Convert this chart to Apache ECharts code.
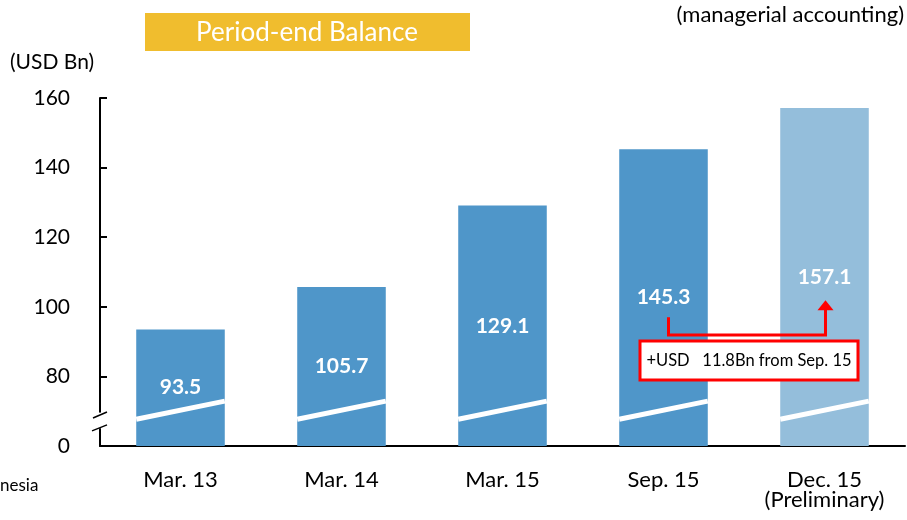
<!DOCTYPE html>
<html>
<head>
<meta charset="utf-8">
<script src="https://cdn.jsdelivr.net/npm/echarts@6/dist/echarts.min.js"></script>
<style>
  html, body { margin: 0; padding: 0; background: #fff; }
  #main { width: 907px; height: 520px; }
</style>
</head>
<body>
<div id="main"></div>
<script>
// data
const categories = ['Mar. 13', 'Mar. 14', 'Mar. 15', 'Sep. 15', 'Dec. 15\n(Preliminary)']
const balances = [93.5, 105.7, 129.1, 145.3, 157.1]
const preliminary = [false, false, false, false, true]
const increase = 11.8

// axis is broken: the bottom tick (60) is shown as "0"
const axisMin = 60
const axisMax = 160
const axisStep = 20

const FONT = 'Lato'
const dark = '#4F96C9'
const light = '#94BEDB'
const red = '#FF0000'

const chart = echarts.init(document.getElementById('main'))

const option = {
  animation: false,
  textStyle: { fontFamily: FONT },
  grid: { left: 100, right: 2, top: 98, bottom: 74, outerBoundsMode: 'none' },
  xAxis: {
    type: 'category',
    data: categories,
    axisLine: { lineStyle: { color: '#000', width: 2 } },
    axisTick: { inside: true, length: 7, lineStyle: { color: '#000', width: 2 } },
    axisLabel: {
      interval: 0,
      hideOverlap: false,
      color: '#000',
      fontSize: 22,
      margin: 24,
      lineHeight: 20,
      fontFamily: FONT,
    },
  },
  yAxis: {
    type: 'value',
    min: axisMin,
    max: axisMax,
    interval: axisStep,
    splitLine: { show: false },
    axisLine: { show: true, lineStyle: { color: '#000', width: 2 } },
    axisTick: { show: true, inside: true, length: 7, lineStyle: { color: '#000', width: 2 } },
    axisLabel: {
      color: '#000',
      fontSize: 21,
      margin: 30,
      fontFamily: FONT,
      formatter: (v) => (v === axisMin ? '0' : String(v)),
    },
  },
  graphic: [
    {
      type: 'rect',
      left: 145,
      top: 13,
      shape: { width: 325, height: 38 },
      style: { fill: '#F0BD2E' },
    },
    {
      type: 'text',
      x: 307,
      y: 33,
      style: {
        text: 'Period-end Balance',
        fill: '#fff',
        fontSize: 26,
        fontFamily: FONT,
        align: 'center',
        verticalAlign: 'middle',
      },
    },
    {
      type: 'text',
      right: 3,
      top: 4,
      style: { text: '(managerial accounting)', fill: '#000', fontSize: 22, fontFamily: FONT },
    },
    {
      type: 'text',
      left: 10,
      top: 52,
      style: { text: '(USD Bn)', fill: '#000', fontSize: 21, fontFamily: FONT },
    },
    {
      type: 'text',
      left: 0,
      top: 477,
      style: { text: 'nesia', fill: '#000', fontSize: 17, fontFamily: FONT },
    },
  ],
  series: [
    {
      type: 'bar',
      barWidth: '55%',
      data: balances.map((v, i) => ({
        value: v,
        itemStyle: { color: preliminary[i] ? light : dark },
      })),
      label: {
        show: true,
        position: 'inside',
        color: '#fff',
        fontWeight: 'bold',
        fontSize: 21,
        fontFamily: FONT,
        formatter: (p) => p.value.toFixed(1),
      },
    },
    {
      // white slash across each bar (break marker)
      type: 'custom',
      z: 5,
      data: categories.map((c, i) => [i, 70]),
      encode: { x: 0, y: 1 },
      renderItem(params, api) {
        const half = api.size([1, 0])[0] * 0.275
        const a = api.coord([api.value(0), 67.7])
        const b = api.coord([api.value(0), 72.9])
        return {
          type: 'line',
          shape: { x1: a[0] - half, y1: a[1], x2: a[0] + half, y2: b[1] },
          style: { stroke: '#fff', lineWidth: 5 },
        }
      },
    },
    {
      // break on the value axis
      type: 'custom',
      z: 5,
      data: [[0, 67]],
      encode: { x: 0, y: 1 },
      renderItem(params, api) {
        const x = params.coordSys.x
        const top = api.coord([0, 69.6])[1]
        const bottom = api.coord([0, 65.1])[1]
        const y1 = api.coord([0, 68.9])[1]
        const y2 = api.coord([0, 65.2])[1]
        return {
          type: 'group',
          children: [
            { type: 'rect', shape: { x: x - 3, y: top, width: 6, height: bottom - top }, style: { fill: '#fff' } },
            { type: 'line', shape: { x1: x - 7, y1: y1 + 3, x2: x + 7, y2: y1 - 3 }, style: { stroke: '#000', lineWidth: 1.5 } },
            { type: 'line', shape: { x1: x - 8, y1: y2 + 3, x2: x + 7, y2: y2 - 3 }, style: { stroke: '#000', lineWidth: 1.5 } },
          ],
        }
      },
    },
    {
      // growth annotation from Sep. 15 to Dec. 15
      type: 'custom',
      z: 6,
      data: [[3, balances[3]]],
      encode: { x: 0, y: 1 },
      renderItem(params, api) {
        const s = api.coord([3, 97])
        const m = api.coord([3, 91.9])
        const e = api.coord([4, 91.9])
        const t = api.coord([4, 101.9])
        const boxTop = api.coord([3, 90.2])[1]
        const boxBottom = api.coord([3, 79])[1]
        const sx = s[0] + 5
        const ex = e[0] + 1
        const cx = (s[0] + e[0]) / 2 + 5
        const boxW = 218
        return {
          type: 'group',
          children: [
            {
              type: 'polyline',
              shape: { points: [[sx, s[1]], [sx, m[1]], [ex, m[1]], [ex, t[1] + 9]] },
              style: { stroke: red, lineWidth: 3, fill: null },
            },
            {
              type: 'polygon',
              shape: { points: [[ex - 8, t[1] + 10], [ex + 8, t[1] + 10], [ex, t[1]]] },
              style: { fill: red },
            },
            {
              type: 'rect',
              shape: { x: cx - boxW / 2, y: boxTop, width: boxW, height: boxBottom - boxTop },
              style: { fill: '#fff', stroke: red, lineWidth: 3 },
            },
            {
              type: 'text',
              x: cx,
              y: (boxTop + boxBottom) / 2,
              style: {
                text: '+USD   ' + increase.toFixed(1) + 'Bn from Sep. 15',
                fill: '#000',
                fontSize: 16.5,
                fontFamily: FONT,
                align: 'center',
                verticalAlign: 'middle',
              },
            },
          ],
        }
      },
    },
  ],
}

chart.setOption(option)
</script>
</body>
</html>
